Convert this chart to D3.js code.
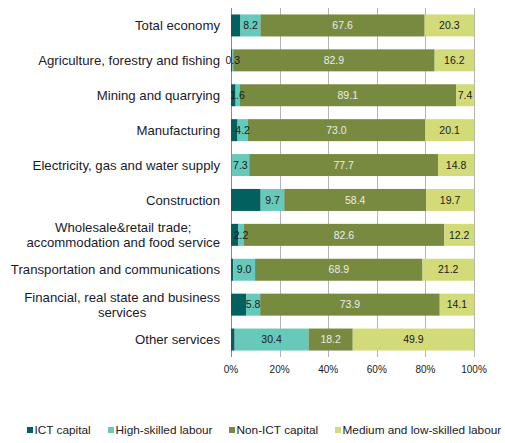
<!DOCTYPE html>
<html>
<head>
<meta charset="utf-8">
<script src="https://cdn.jsdelivr.net/npm/d3@7"></script>
<style>
body { margin: 0; background: #fff; }
svg { display: block; font-family: "Liberation Sans", Arial, sans-serif; }
</style>
</head>
<body>
<script>
// sectors, top to bottom
var sectors = [
	"Total economy",
	"Agriculture, forestry and fishing",
	"Mining and quarrying",
	"Manufacturing",
	"Electricity, gas and water supply",
	"Construction",
	"Wholesale&retail trade;\naccommodation and food service",
	"Transportation and communications",
	"Financial, real state and business\nservices",
	"Other services"
];

var seriesNames = ["ICT capital", "High-skilled labour", "Non-ICT capital", "Medium and low-skilled labour"];

// shares in %, one array per series
var ictCapital   = [3.9, 0.6, 1.9, 2.7, 0.2, 12.2, 3.0, 0.9, 6.2, 1.5];
var highSkilled  = [8.2, 0.3, 1.6, 4.2, 7.3, 9.7, 2.2, 9.0, 5.8, 30.4];
var nonIctCap    = [67.6, 82.9, 89.1, 73.0, 77.7, 58.4, 82.6, 68.9, 73.9, 18.2];
var medLowLabour = [20.3, 16.2, 7.4, 20.1, 14.8, 19.7, 12.2, 21.2, 14.1, 49.9];

// which series carry value labels
var showLabel = [false, true, true, true];

var xTicks = [0, 20, 40, 60, 80, 100];

var colors = ["#02605f", "#66c9b9", "#778a40", "#d3db78"];
var labelColors = ["#fff", "#1a1a1a", "#ececec", "#1a1a1a"];

var W = 505, H = 443;
var plotL = 231, plotR = 474, plotT = 8, plotB = 357;

var svg = d3.select("body").append("svg")
	.attr("width", W)
	.attr("height", H);

var table = sectors.map(function(s, i){
	return {
		sector: s,
		v: [ictCapital[i], highSkilled[i], nonIctCap[i], medLowLabour[i]]
	};
});

var x = d3.scaleLinear().domain([0, 100]).range([plotL, plotR]);
var y = d3.scaleBand().domain(sectors).range([plotT, plotB]).paddingInner(0.37).paddingOuter(0.185);

/*
/	GRID
*/
var grid = svg.append('g');
grid.selectAll('line').data(xTicks).enter().append('line')
	.attr('x1', function(d){ return Math.round(x(d)) + 0.5; })
	.attr('x2', function(d){ return Math.round(x(d)) + 0.5; })
	.attr('y1', plotT)
	.attr('y2', plotB)
	.attr('stroke', function(d){ return d == 0 ? '#8a8a8a' : '#b4b4b4'; })
	.attr('stroke-width', 1);

/*
/	BARS
*/
var barGroup = svg.append('g');
var labelGroup = svg.append('g');

table.forEach(function(d){
	var acc = 0;
	d.v.forEach(function(val, k){
		var x0 = acc, x1 = acc + val;
		acc = x1;
		barGroup.append('rect')
			.attr('x', x(x0))
			.attr('y', y(d.sector))
			.attr('width', x(x1) - x(x0))
			.attr('height', y.bandwidth())
			.style('fill', colors[k]);
		if(showLabel[k]){
			labelGroup.append('text')
				.attr('x', (x(x0) + x(x1)) / 2)
				.attr('y', y(d.sector) + y.bandwidth() / 2)
				.attr('dy', '0.35em')
				.attr('text-anchor', 'middle')
				.attr('font-size', '10.5px')
				.style('fill', labelColors[k])
				.text(val.toFixed(1));
		}
	});
});

/*
/	CATEGORY LABELS
*/
var catGroup = svg.append('g');
sectors.forEach(function(s){
	var lines = s.split('\n');
	var cy = y(s) + y.bandwidth() / 2;
	var t = catGroup.append('text')
		.attr('font-size', '13.2px')
		.style('fill', '#1a1a2a');
	var lh = 14.6;
	lines.forEach(function(line, i){
		t.append('tspan')
			.attr('y', cy + (i - (lines.length - 1) / 2) * lh)
			.attr('dy', '0.35em')
			.text(line);
	});
	// measure widest line, right-align the block, centre the lines in it
	var maxW = 0;
	t.selectAll('tspan').each(function(){
		maxW = Math.max(maxW, this.getComputedTextLength());
	});
	var anchorX = lines.length > 1 ? 220 - maxW / 2 : 220;
	t.attr('text-anchor', lines.length > 1 ? 'middle' : 'end');
	t.selectAll('tspan').attr('x', anchorX);
});

/*
/	X AXIS LABELS
*/
svg.append('g').selectAll('text').data(xTicks).enter().append('text')
	.attr('x', function(d){ return x(d); })
	.attr('y', 369)
	.attr('dy', '0.35em')
	.attr('text-anchor', 'middle')
	.attr('font-size', '10px')
	.style('fill', '#1a1a1a')
	.text(function(d){ return d + '%'; });

/*
/	LEGEND
*/
var legendX = [27, 108, 229, 335];
var legend = svg.append('g');
seriesNames.forEach(function(n, k){
	legend.append('rect')
		.attr('x', legendX[k])
		.attr('y', 427)
		.attr('width', 6)
		.attr('height', 6)
		.style('fill', colors[k]);
	legend.append('text')
		.attr('x', legendX[k] + 7.5)
		.attr('y', 430)
		.attr('dy', '0.35em')
		.attr('font-size', '11.8px')
		.style('fill', '#1a1a1a')
		.text(n);
});
</script>
</body>
</html>
